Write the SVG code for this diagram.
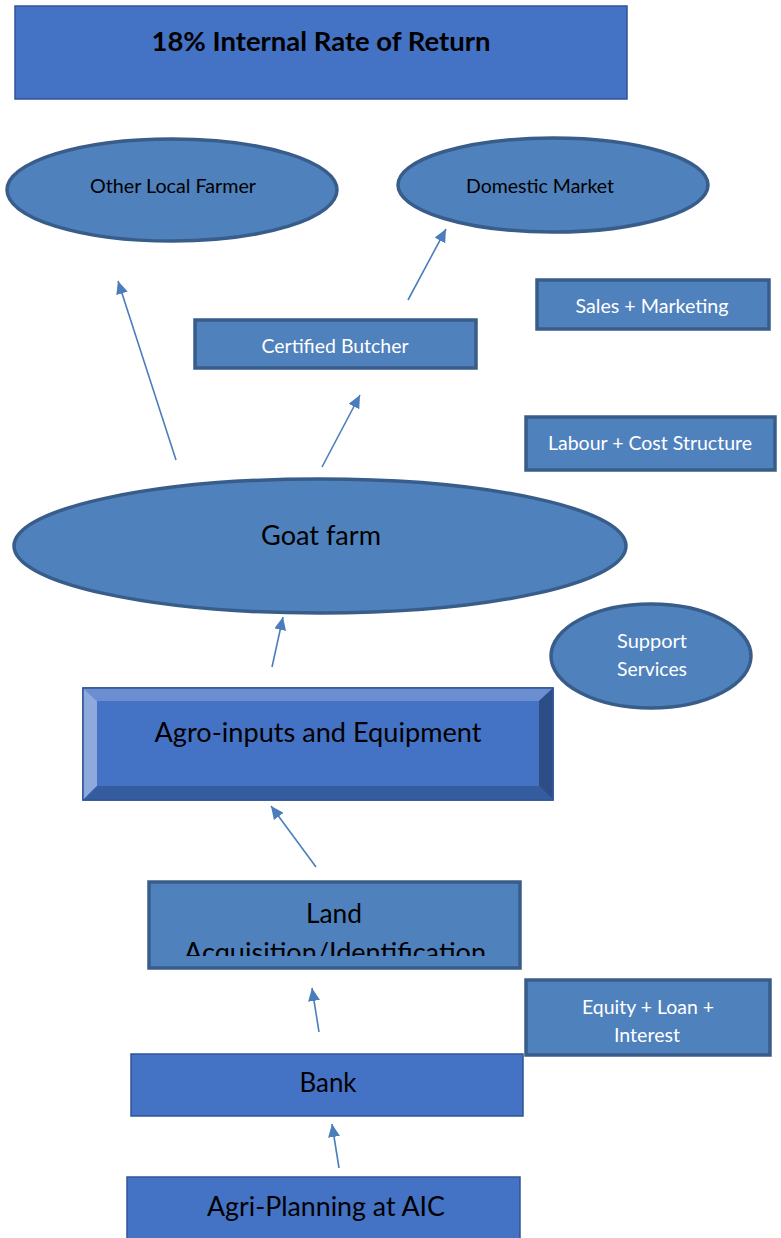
<svg xmlns="http://www.w3.org/2000/svg" width="781" height="1238" viewBox="0 0 781 1238">
<style>
.t{font-family:Lato,"Open Sans","Liberation Sans",sans-serif;text-anchor:middle}
.blk{fill:#000}
.wht{fill:#fff}
.s{font-size:18.5px}
.m{font-size:27px}
.ell{fill:#4F81BD;stroke:#385D8A;stroke-width:3.5}
.box{fill:#4F81BD;stroke:#385D8A;stroke-width:3.5}
.dbox{fill:#4472C4;stroke:#2F5597;stroke-width:1.5}
.arr{stroke:#4A7EBB;stroke-width:1.6;fill:none;marker-end:url(#ah)}
</style>
<defs>
<marker id="ah" markerUnits="userSpaceOnUse" markerWidth="14" markerHeight="12" refX="13" refY="6" orient="auto">
<path d="M0,0 L13,6 L0,12 Z" fill="#4A7EBB"/>
</marker>
<clipPath id="landclip"><rect x="150" y="883" width="368" height="73"/></clipPath>
</defs>
<rect width="781" height="1238" fill="#fff"/>

<g id="connectors">
<line class="arr" x1="408" y1="300" x2="446" y2="229"/>
<line class="arr" x1="176" y1="460" x2="118" y2="281"/>
<line class="arr" x1="322" y1="467" x2="360" y2="395"/>
<line class="arr" x1="272" y1="667" x2="283" y2="617"/>
<line class="arr" x1="316" y1="867" x2="271" y2="806"/>
<line class="arr" x1="319" y1="1032" x2="312" y2="988"/>
<line class="arr" x1="339" y1="1168" x2="332" y2="1124"/>
</g>

<g id="title">
<rect class="dbox" x="15" y="6" width="612" height="93"/>
<text class="t blk" x="321" y="51" font-size="27" font-weight="bold" textLength="339" lengthAdjust="spacingAndGlyphs">18% Internal Rate of Return</text>
</g>

<g id="other-local-farmer">
<ellipse class="ell" cx="172" cy="190" rx="165" ry="51"/>
<text class="t blk s" x="173" y="193" textLength="166" lengthAdjust="spacingAndGlyphs">Other Local Farmer</text>
</g>

<g id="domestic-market">
<ellipse class="ell" cx="553" cy="185" rx="155" ry="47"/>
<text class="t blk s" x="540" y="193" textLength="148" lengthAdjust="spacingAndGlyphs">Domestic Market</text>
</g>

<g id="sales-marketing">
<rect class="box" x="537" y="280" width="232" height="49"/>
<text class="t wht s" x="652" y="313" textLength="153" lengthAdjust="spacingAndGlyphs">Sales + Marketing</text>
</g>

<g id="certified-butcher">
<rect class="box" x="195" y="320" width="281" height="48"/>
<text class="t wht s" x="335" y="353" textLength="147" lengthAdjust="spacingAndGlyphs">Certified Butcher</text>
</g>

<g id="labour-cost">
<rect class="box" x="526" y="417" width="249" height="53"/>
<text class="t wht s" x="650" y="450" textLength="204" lengthAdjust="spacingAndGlyphs">Labour + Cost Structure</text>
</g>

<g id="goat-farm">
<ellipse class="ell" cx="320" cy="546" rx="306" ry="67"/>
<text class="t blk m" x="321" y="545" textLength="120" lengthAdjust="spacingAndGlyphs">Goat farm</text>
</g>

<g id="support-services">
<ellipse class="ell" cx="651" cy="656" rx="100" ry="52"/>
<text class="t wht s" x="652" y="648" textLength="70" lengthAdjust="spacingAndGlyphs">Support</text>
<text class="t wht s" x="652" y="676" textLength="70" lengthAdjust="spacingAndGlyphs">Services</text>
</g>

<g id="agro-inputs">
<rect x="83" y="688" width="470" height="112" fill="#4472C4" stroke="#2F5597" stroke-width="1.5"/>
<polygon points="83,688 553,688 539,701 97,701" fill="#6A8ECF"/>
<polygon points="83,688 97,701 97,786 83,800" fill="#8EA9DB"/>
<polygon points="553,688 553,800 539,786 539,701" fill="#2C4D86"/>
<polygon points="83,800 97,786 539,786 553,800" fill="#345C9F"/>
<rect x="83" y="688" width="470" height="112" fill="none" stroke="#2F5597" stroke-width="1.5"/>
<text class="t blk m" x="318" y="742" textLength="327" lengthAdjust="spacingAndGlyphs">Agro-inputs and Equipment</text>
</g>

<g id="land">
<rect class="box" x="149" y="882" width="371" height="86"/>
<text class="t blk m" x="334" y="923" textLength="56" lengthAdjust="spacingAndGlyphs">Land</text>
<text class="t blk m" x="335" y="962" textLength="302" lengthAdjust="spacingAndGlyphs" clip-path="url(#landclip)">Acquisition/Identification</text>
</g>

<g id="equity-loan">
<rect class="box" x="526" y="980" width="244" height="75"/>
<text class="t wht s" x="648" y="1014" textLength="132" lengthAdjust="spacingAndGlyphs">Equity + Loan +</text>
<text class="t wht s" x="647" y="1042" textLength="66" lengthAdjust="spacingAndGlyphs">Interest</text>
</g>

<g id="bank">
<rect class="dbox" x="131" y="1054" width="392" height="62"/>
<text class="t blk m" x="328" y="1092" textLength="57" lengthAdjust="spacingAndGlyphs">Bank</text>
</g>

<g id="agri-planning">
<rect class="dbox" x="127" y="1177" width="393" height="65"/>
<text class="t blk m" x="326" y="1216" textLength="238" lengthAdjust="spacingAndGlyphs">Agri-Planning at AIC</text>
</g>
</svg>
